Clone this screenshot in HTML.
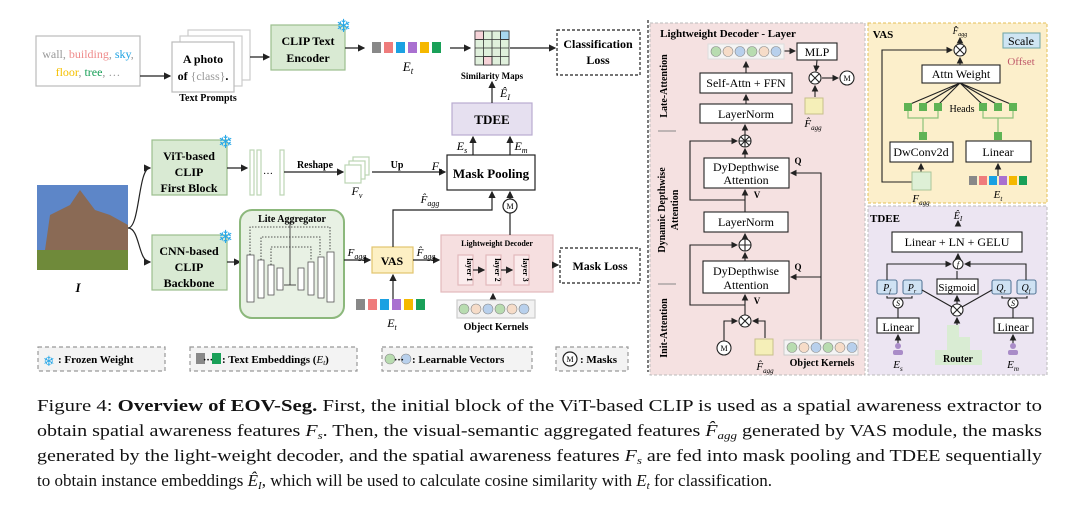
<!DOCTYPE html>
<html><head><meta charset="utf-8"><style>
html,body{margin:0;padding:0;background:#fff;width:1080px;height:514px;overflow:hidden}
svg{display:block}
text{font-family:"Liberation Serif",serif}
.b{font-weight:bold}
</style></head><body>
<svg width="1080" height="514" viewBox="0 0 1080 514" xmlns="http://www.w3.org/2000/svg">
<defs>
<marker id="a" markerWidth="6" markerHeight="6" refX="5" refY="3" orient="auto"><path d="M0,0 L6,3 L0,6 z" fill="#222"/></marker>
</defs>
<g stroke="#222" stroke-width="1.2" fill="none">
<rect x="36" y="36" width="104" height="50" fill="#fff" stroke="#bbb"/>
<rect x="188" y="30" width="62" height="50" fill="#fff" stroke="#ccc"/>
<rect x="180" y="36" width="62" height="50" fill="#fff" stroke="#ccc"/>
<rect x="172" y="42" width="62" height="50" fill="#fff" stroke="#bbb"/>
<rect x="271" y="25" width="74" height="45" fill="#d9ead3" stroke="#9bbf8e"/>
<rect x="557" y="30" width="83" height="45" stroke-dasharray="3,2" fill="#fff"/>
<line x1="140" y1="76" x2="170" y2="76" marker-end="url(#a)"/>
<line x1="250" y1="57" x2="269" y2="57" marker-end="url(#a)"/>
<line x1="345" y1="48" x2="364" y2="48" marker-end="url(#a)"/>
<line x1="450" y1="48" x2="470" y2="48" marker-end="url(#a)"/>
<line x1="510" y1="48" x2="555" y2="48" marker-end="url(#a)"/>
<line x1="648" y1="20" x2="648" y2="372" stroke-dasharray="3,2"/>
<rect x="452" y="103" width="80" height="32" fill="#e6e0f0" stroke="#b9acd0"/>
<line x1="492" y1="103" x2="492" y2="82" marker-end="url(#a)"/>
<rect x="447" y="155" width="88" height="35" fill="#fff"/>
<line x1="473" y1="155" x2="473" y2="137" marker-end="url(#a)"/>
<line x1="510" y1="155" x2="510" y2="137" marker-end="url(#a)"/>
<rect x="152" y="140" width="75" height="55" fill="#d9ead3" stroke="#9bbf8e"/>
<rect x="152" y="235" width="75" height="55" fill="#d9ead3" stroke="#9bbf8e"/>
<path d="M128 228 C140 228,138 168,150 168" marker-end="url(#a)"/>
<path d="M128 228 C140 228,138 262,150 262" marker-end="url(#a)"/>
<line x1="227" y1="168" x2="247" y2="168" marker-end="url(#a)"/>
<g stroke="#bcd5b3" fill="#fff"><rect x="250" y="150" width="4" height="45"/><rect x="257" y="150" width="4" height="45"/><rect x="280" y="150" width="4" height="45"/></g>
<line x1="284" y1="172" x2="343" y2="172" marker-end="url(#a)"/>
<g fill="#fff" stroke="#bcd5b3"><rect x="353" y="157" width="16" height="18"/><rect x="349" y="161" width="16" height="18"/><rect x="345" y="165" width="16" height="18"/></g>
<line x1="372" y1="172" x2="445" y2="172" marker-end="url(#a)"/>
<line x1="227" y1="262" x2="240" y2="262" marker-end="url(#a)"/>
<rect x="240" y="210" width="104" height="108" rx="12" fill="#e8f1e4" stroke="#8cb87c" stroke-width="2"/>
<g fill="#fff" stroke="#555" stroke-width="0.8">
<rect x="247" y="255" width="7" height="47"/><rect x="258" y="260" width="6" height="38"/><rect x="268" y="265" width="6" height="30"/><rect x="277" y="268" width="6" height="22"/>
<rect x="298" y="268" width="6" height="22"/><rect x="308" y="262" width="6" height="33"/><rect x="318" y="257" width="6" height="41"/><rect x="327" y="252" width="7" height="50"/>
</g>
<g stroke-dasharray="1.5,1.5" stroke-width="0.8"><path d="M250 255 V227 H330 V250"/><path d="M261 260 V237 H320 V255"/><path d="M271 265 V247 H311 V260"/></g>
<path d="M284 285 H296" stroke-width="0.8"/><path d="M290 285 V222" stroke-width="0.8"/>
<line x1="344" y1="260" x2="370" y2="260" marker-end="url(#a)"/>
<rect x="372" y="247" width="41" height="26" fill="#fdf0c4" stroke="#e2c46e"/>
<line x1="413" y1="260" x2="439" y2="260" marker-end="url(#a)"/>
<path d="M393 247 V210 H492 V192" marker-end="url(#a)"/>
<line x1="393" y1="300" x2="393" y2="275" marker-end="url(#a)"/>
<rect x="441" y="235" width="112" height="57" fill="#f6dfe0" stroke="#e3b9bc"/>
<g fill="#fbeced" stroke="#e3b9bc"><rect x="458" y="255" width="15" height="30"/><rect x="486" y="255" width="15" height="30"/><rect x="514" y="255" width="15" height="30"/></g>
<line x1="473" y1="270" x2="484" y2="270" marker-end="url(#a)"/>
<line x1="501" y1="270" x2="512" y2="270" marker-end="url(#a)"/>
<line x1="493" y1="300" x2="493" y2="294" marker-end="url(#a)"/>
<line x1="510" y1="235" x2="510" y2="213"/>
<circle cx="510" cy="206" r="7" fill="#fff"/>
<line x1="510" y1="199" x2="510" y2="192" marker-end="url(#a)"/>
<line x1="553" y1="265" x2="558" y2="265" marker-end="url(#a)"/>
<rect x="560" y="248" width="80" height="35" stroke-dasharray="3,2" fill="#fff"/>
<rect x="457" y="300" width="78" height="18" fill="#f2f2f2" stroke="#ccc"/>
<g stroke="#999" stroke-dasharray="4,3" fill="#f3f3f3"><rect x="38" y="347" width="127" height="24"/><rect x="190" y="347" width="167" height="24"/><rect x="382" y="347" width="150" height="24"/><rect x="556" y="347" width="72" height="24"/></g>
<circle cx="570" cy="359" r="7" fill="#fff"/>
</g>
<g>
<rect x="372" y="42" width="9" height="11" fill="#888"/><rect x="384" y="42" width="9" height="11" fill="#ef7c7c"/><rect x="396" y="42" width="9" height="11" fill="#1ba1e2"/><rect x="408" y="42" width="9" height="11" fill="#a970d0"/><rect x="420" y="42" width="9" height="11" fill="#f5b800"/><rect x="432" y="42" width="9" height="11" fill="#19a058"/>
<rect x="356" y="299" width="9" height="11" fill="#888"/><rect x="368" y="299" width="9" height="11" fill="#ef7c7c"/><rect x="380" y="299" width="9" height="11" fill="#1ba1e2"/><rect x="392" y="299" width="9" height="11" fill="#a970d0"/><rect x="404" y="299" width="9" height="11" fill="#f5b800"/><rect x="416" y="299" width="9" height="11" fill="#19a058"/>
<rect x="196" y="353" width="9" height="11" fill="#888"/><rect x="212" y="353" width="9" height="11" fill="#19a058"/>
</g>
<g stroke="#333" stroke-width="0.8">
<rect x="475" y="31" width="34" height="34" fill="#e0f0dc"/>
<rect x="475" y="31" width="8.5" height="8.5" fill="#f6d3d8"/><rect x="500.5" y="31" width="8.5" height="8.5" fill="#a8d8f0"/><rect x="483.5" y="56.5" width="8.5" height="8.5" fill="#f6d3d8"/>
<path d="M483.5 31V65M492 31V65M500.5 31V65M475 39.5H509M475 48H509M475 56.5H509" fill="none"/>
</g>
<rect x="37" y="185" width="91" height="85" fill="#5d86c8"/>
<rect x="37" y="250" width="91" height="20" fill="#6f8a3a"/>
<polygon points="45,250 50,215 70,205 80,190 95,210 110,215 128,225 128,250" fill="#8a6a55"/>
<g stroke="#888" stroke-width="0.6">
<circle cx="464" cy="309" r="5" fill="#b8dcb0"/><circle cx="476" cy="309" r="5" fill="#f6dcc8"/><circle cx="488" cy="309" r="5" fill="#b8d0ec"/><circle cx="500" cy="309" r="5" fill="#b8dcb0"/><circle cx="512" cy="309" r="5" fill="#f6dcc8"/><circle cx="524" cy="309" r="5" fill="#b8d0ec"/>
<circle cx="390" cy="359" r="5" fill="#b8dcb0"/><circle cx="406" cy="359" r="5" fill="#b8d0ec"/>
</g>
<g font-size="18" fill="#29a8e8" font-family="DejaVu Sans"><text x="336" y="32">❄</text><text x="218" y="148">❄</text><text x="218" y="243">❄</text><text x="43" y="366" font-size="14">❄</text></g>
<g font-size="12" text-anchor="middle">
<text x="88" y="58"><tspan fill="#999">wall, </tspan><tspan fill="#ef8c8c">building</tspan><tspan fill="#999">, </tspan><tspan fill="#1ba1e2">sky</tspan><tspan fill="#999">,</tspan></text>
<text x="88" y="76"><tspan fill="#f5c000">floor</tspan><tspan fill="#999">, </tspan><tspan fill="#19a058">tree</tspan><tspan fill="#999">, …</tspan></text>
<text x="203" y="63" class="b">A photo</text><text x="203" y="80"><tspan class="b">of </tspan><tspan fill="#999">{class}</tspan><tspan class="b">.</tspan></text>
<text x="208" y="101" class="b" font-size="10">Text Prompts</text>
<text x="308" y="45" class="b">CLIP Text</text><text x="308" y="62" class="b">Encoder</text>
<text x="408" y="71" font-style="italic" font-size="13">E<tspan font-size="9" dy="3">t</tspan></text>
<text x="492" y="79" class="b" font-size="9">Similarity Maps</text>
<text x="598" y="48" class="b">Classification</text><text x="598" y="64" class="b">Loss</text>
<text x="505" y="97" font-style="italic" font-size="12">Ê<tspan font-size="8" dy="3">I</tspan></text>
<text x="492" y="124" class="b" font-size="13">TDEE</text>
<text x="491" y="178" class="b" font-size="13">Mask Pooling</text>
<text x="462" y="150" font-style="italic" font-size="12">E<tspan font-size="8" dy="3">s</tspan></text>
<text x="521" y="150" font-style="italic" font-size="12">E<tspan font-size="8" dy="3">m</tspan></text>
<text x="437" y="170" font-style="italic" font-size="12">F<tspan font-size="8" dy="3">s</tspan></text>
<text x="189" y="160" class="b">ViT-based</text><text x="189" y="176" class="b">CLIP</text><text x="189" y="192" class="b">First Block</text>
<text x="189" y="255" class="b">CNN-based</text><text x="189" y="271" class="b">CLIP</text><text x="189" y="287" class="b">Backbone</text>
<text x="315" y="168" class="b" font-size="10">Reshape</text>
<text x="397" y="168" class="b" font-size="10">Up</text>
<text x="268" y="174" font-size="10">…</text>
<text x="357" y="195" font-style="italic" font-size="12">F<tspan font-size="8" dy="3">v</tspan></text>
<text x="78" y="292" font-style="italic" class="b" font-size="13">I</text>
<text x="292" y="222" class="b" font-size="10">Lite Aggregator</text>
<text x="357" y="256" font-style="italic" font-size="11">F<tspan font-size="8" dy="3">agg</tspan></text>
<text x="426" y="256" font-style="italic" font-size="11">F̂<tspan font-size="8" dy="3">agg</tspan></text>
<text x="430" y="203" font-style="italic" font-size="11">F̂<tspan font-size="8" dy="3">agg</tspan></text>
<text x="392" y="265" class="b" font-size="12">VAS</text>
<text x="497" y="246" class="b" font-size="8">Lightweight Decoder</text>
<text x="510" y="209" font-size="8">M</text>
<text x="600" y="270" class="b">Mask Loss</text>
<text x="392" y="327" font-style="italic" font-size="12">E<tspan font-size="8" dy="3">t</tspan></text>
<text x="496" y="330" class="b" font-size="10">Object Kernels</text>
<text x="570" y="362" font-size="8">M</text>
</g>
<g font-size="8" class="b" text-anchor="middle">
<text transform="translate(467,270) rotate(90)">layer 1</text><text transform="translate(495,270) rotate(90)">layer 2</text><text transform="translate(523,270) rotate(90)">layer 3</text>
</g>
<g font-size="11" class="b">
<text x="58" y="363">: Frozen Weight</text>
<text x="203" y="363" font-size="10">···</text><text x="222" y="363">: Text Embeddings (<tspan font-style="italic" font-weight="normal">E<tspan font-size="7" dy="2">t</tspan></tspan><tspan dy="-2">)</tspan></text>
<text x="394" y="363" font-size="10">···</text><text x="412" y="363">: Learnable Vectors</text>
<text x="580" y="363">: Masks</text>
</g>

<rect x="650" y="23" width="215" height="352" fill="#f5e1e1" stroke="#bbb" stroke-dasharray="3,2"/>
<rect x="868" y="23" width="179" height="180" fill="#fcefcb" stroke="#e3bf57" stroke-dasharray="3,2"/>
<rect x="868" y="206" width="179" height="169" fill="#ece5f2" stroke="#bbb" stroke-dasharray="3,2"/>
<g stroke="#222" stroke-width="1.1" fill="#fff">
<rect x="797" y="43" width="40" height="17"/>
<rect x="700" y="73" width="92" height="20"/>
<rect x="700" y="104" width="92" height="19"/>
<rect x="704" y="158" width="85" height="30"/>
<rect x="704" y="212" width="84" height="20"/>
<rect x="703" y="261" width="86" height="32"/>
<circle cx="745" cy="141" r="6"/><circle cx="745" cy="245" r="6"/><circle cx="745" cy="321" r="6"/>
<circle cx="815" cy="78" r="6"/><circle cx="847" cy="78" r="7"/><circle cx="724" cy="348" r="7"/>
<path d="M741 137l8 8M749 137l-8 8M741 317l8 8M749 317l-8 8M811 74l8 8M819 74l-8 8M745 135v12M739 141h12M745 239v12M739 245h12" fill="none"/>
<g fill="none">
<line x1="746" y1="73" x2="746" y2="62" marker-end="url(#a)"/>
<line x1="784" y1="51" x2="795" y2="51" marker-end="url(#a)"/>
<line x1="817" y1="60" x2="816" y2="71" marker-end="url(#a)"/>
<line x1="822" y1="78" x2="838" y2="78" marker-end="url(#a)"/>
<line x1="815" y1="97" x2="815" y2="86" marker-end="url(#a)"/>
<line x1="746" y1="104" x2="746" y2="95" marker-end="url(#a)"/>
<line x1="745" y1="135" x2="745" y2="125" marker-end="url(#a)"/>
<line x1="745" y1="158" x2="745" y2="149" marker-end="url(#a)"/>
<line x1="745" y1="212" x2="745" y2="190" marker-end="url(#a)"/>
<line x1="745" y1="239" x2="745" y2="234" marker-end="url(#a)"/>
<line x1="745" y1="261" x2="745" y2="253" marker-end="url(#a)"/>
<line x1="745" y1="315" x2="745" y2="295" marker-end="url(#a)"/>
<path d="M745 200 H690 V141 H737" marker-end="url(#a)"/>
<path d="M745 305 H690 V245 H737" marker-end="url(#a)"/>
<path d="M821 340 V173 H791" marker-end="url(#a)"/>
<path d="M821 277 H791" marker-end="url(#a)"/>
<path d="M724 341 V321 H737" marker-end="url(#a)"/>
<path d="M765 338 V321 H753" marker-end="url(#a)"/>
</g>
</g>
<line x1="658" y1="131" x2="676" y2="131" stroke="#888"/><line x1="658" y1="284" x2="676" y2="284" stroke="#888"/>
<rect x="708" y="44" width="76" height="15" fill="#f4f4f4" stroke="#ddd"/>
<rect x="784" y="340" width="74" height="15" fill="#f4f4f4" stroke="#ccc"/>
<g stroke="#888" stroke-width="0.6">
<circle cx="716" cy="51.5" r="5" fill="#b8dcb0"/><circle cx="728" cy="51.5" r="5" fill="#f6dcc8"/><circle cx="740" cy="51.5" r="5" fill="#b8d0ec"/><circle cx="752" cy="51.5" r="5" fill="#b8dcb0"/><circle cx="764" cy="51.5" r="5" fill="#f6dcc8"/><circle cx="776" cy="51.5" r="5" fill="#b8d0ec"/>
<circle cx="792" cy="347.5" r="5" fill="#b8dcb0"/><circle cx="804" cy="347.5" r="5" fill="#f6dcc8"/><circle cx="816" cy="347.5" r="5" fill="#b8d0ec"/><circle cx="828" cy="347.5" r="5" fill="#b8dcb0"/><circle cx="840" cy="347.5" r="5" fill="#f6dcc8"/><circle cx="852" cy="347.5" r="5" fill="#b8d0ec"/>
</g>
<g fill="#f5efb8" stroke="#c8c08a"><rect x="805" y="98" width="18" height="16"/><rect x="755" y="339" width="18" height="16"/></g>
<g font-size="12" text-anchor="middle">
<text x="728" y="37" class="b" font-size="11">Lightweight Decoder - Layer</text>
<text x="817" y="56">MLP</text>
<text x="746" y="87">Self-Attn + FFN</text>
<text x="746" y="118">LayerNorm</text>
<text x="746" y="171">DyDepthwise</text><text x="746" y="184">Attention</text>
<text x="746" y="226">LayerNorm</text>
<text x="746" y="275">DyDepthwise</text><text x="746" y="289">Attention</text>
<text x="847" y="81" font-size="8">M</text><text x="724" y="351" font-size="8">M</text>
<text x="798" y="164" class="b" font-size="9">Q</text><text x="798" y="270" class="b" font-size="9">Q</text>
<text x="757" y="198" class="b" font-size="9">V</text><text x="757" y="304" class="b" font-size="9">V</text>
<text x="822" y="366" class="b" font-size="10">Object Kernels</text>
<text x="813" y="127" font-style="italic" font-size="11">F̂<tspan font-size="7" dy="3">agg</tspan></text>
<text x="765" y="370" font-style="italic" font-size="11">F̂<tspan font-size="7" dy="3">agg</tspan></text>
</g>
<g font-size="10" class="b" text-anchor="middle">
<text transform="translate(667,86) rotate(-90)">Late-Attention</text>
<text transform="translate(665,210) rotate(-90)">Dynamic Depthwise</text>
<text transform="translate(678,210) rotate(-90)">Attention</text>
<text transform="translate(667,328) rotate(-90)">Init-Attention</text>
</g>
<g stroke="#222" stroke-width="1.1" fill="#fff">
<rect x="922" y="65" width="78" height="18"/>
<rect x="890" y="142" width="63" height="20"/>
<rect x="966" y="141" width="65" height="21"/>
<rect x="1003" y="33" width="37" height="15" fill="#cfe5f3" stroke="#7aa"/>
<circle cx="960" cy="50" r="6"/>
<path d="M956 46l8 8M964 46l-8 8" fill="none"/>
<g fill="none">
<line x1="960" y1="44" x2="960" y2="38" marker-end="url(#a)"/>
<line x1="960" y1="65" x2="960" y2="58" marker-end="url(#a)"/>
<path d="M912 182 H882 V50 H952" marker-end="url(#a)"/>
<line x1="921" y1="172" x2="921" y2="164" marker-end="url(#a)"/>
<line x1="998" y1="176" x2="998" y2="164" marker-end="url(#a)"/>
<path d="M960 83 L908 105 M960 83 L923 105 M960 83 L938 105 M960 83 L983 105 M960 83 L998 105 M960 83 L1013 105"/>
</g>
</g>
<g stroke="#8cc27a" stroke-width="1.2" fill="none"><path d="M908 110v8h30v-8M923 118v15M983 110v8h30v-8M998 118v15"/></g>
<g fill="#5fb355"><rect x="904" y="103" width="8" height="8"/><rect x="919" y="103" width="8" height="8"/><rect x="934" y="103" width="8" height="8"/><rect x="979" y="103" width="8" height="8"/><rect x="994" y="103" width="8" height="8"/><rect x="1009" y="103" width="8" height="8"/><rect x="919" y="132" width="8" height="8"/><rect x="994" y="132" width="8" height="8"/></g>
<rect x="912" y="172" width="19" height="18" fill="#def0d6" stroke="#aac69a"/>
<g><rect x="969" y="176" width="8" height="9" fill="#888"/><rect x="979" y="176" width="8" height="9" fill="#ef7c7c"/><rect x="989" y="176" width="8" height="9" fill="#1ba1e2"/><rect x="999" y="176" width="8" height="9" fill="#a970d0"/><rect x="1009" y="176" width="8" height="9" fill="#f5b800"/><rect x="1019" y="176" width="8" height="9" fill="#19a058"/></g>
<g font-size="12" text-anchor="middle">
<text x="883" y="38" class="b" font-size="11">VAS</text>
<text x="960" y="34" font-style="italic" font-size="9">F̂<tspan font-size="6" dy="2">agg</tspan></text>
<text x="1021" y="45">Scale</text>
<text x="1021" y="65" fill="#c05a6a" font-size="11">Offset</text>
<text x="961" y="78">Attn Weight</text>
<text x="962" y="112" font-size="10">Heads</text>
<text x="921" y="156">DwConv2d</text>
<text x="998" y="156">Linear</text>
<text x="921" y="202" font-style="italic" font-size="11">F<tspan font-size="7" dy="3">agg</tspan></text>
<text x="998" y="198" font-style="italic" font-size="11">E<tspan font-size="7" dy="3">t</tspan></text>
</g>
<g fill="#d9ecd3"><rect x="947" y="325" width="12" height="25"/><rect x="959" y="337" width="11" height="13"/></g>
<rect x="935" y="350" width="47" height="15" fill="#d9ecd3"/>
<g stroke="#222" stroke-width="1.1" fill="#fff">
<rect x="892" y="232" width="130" height="20"/>
<rect x="937" y="279" width="41" height="15"/>
<rect x="877" y="318" width="42" height="15"/>
<rect x="994" y="318" width="39" height="15"/>
<g fill="#cfe2f3" stroke="#5a7a9a"><rect x="877" y="280" width="20" height="14" rx="2"/><rect x="903" y="280" width="19" height="14" rx="2"/><rect x="992" y="280" width="19" height="14" rx="2"/><rect x="1017" y="280" width="19" height="14" rx="2"/></g>
<circle cx="958" cy="264" r="5"/><circle cx="898" cy="303" r="5"/><circle cx="1013" cy="303" r="5"/><circle cx="957" cy="310" r="6"/>
<path d="M953 306l8 8M961 306l-8 8" fill="none"/>
<g fill="none">
<line x1="958" y1="226" x2="958" y2="221" marker-end="url(#a)"/>
<line x1="958" y1="259" x2="958" y2="254" marker-end="url(#a)"/>
<path d="M887 280 V264 H951" marker-end="url(#a)"/>
<path d="M1026 280 V264 H965" marker-end="url(#a)"/>
<line x1="957" y1="279" x2="957" y2="271"/>
<line x1="957" y1="304" x2="957" y2="296" marker-end="url(#a)"/>
<path d="M922 290 L952 307 M992 290 L962 307"/>
<line x1="957" y1="325" x2="957" y2="318" marker-end="url(#a)"/>
<path d="M898 318v-10 M898 298 h-11v-2 M898 298h14v-2 M1013 318v-10 M1013 298h-11v-2 M1013 298h14v-2"/>
<line x1="898" y1="345" x2="898" y2="335" marker-end="url(#a)"/>
<line x1="1013" y1="345" x2="1013" y2="335" marker-end="url(#a)"/>
</g>
</g>
<g fill="#a98cc8"><circle cx="898" cy="346" r="3"/><rect x="893" y="350" width="10" height="5" rx="2"/><circle cx="1013" cy="346" r="3"/><rect x="1008" y="350" width="10" height="5" rx="2"/></g>
<g font-size="12" text-anchor="middle">
<text x="885" y="222" class="b" font-size="11">TDEE</text>
<text x="958" y="219" font-style="italic" font-size="10">Ê<tspan font-size="7" dy="2">I</tspan></text>
<text x="957" y="246">Linear + LN + GELU</text>
<text x="958" y="267" font-style="italic" font-size="8">f</text>
<text x="957" y="291" font-size="11">Sigmoid</text>
<text x="898" y="331">Linear</text><text x="1013" y="331">Linear</text>
<text x="887" y="291" font-style="italic" font-size="10">P<tspan font-size="6" dy="2">f</tspan></text>
<text x="912" y="291" font-style="italic" font-size="10">P<tspan font-size="6" dy="2">r</tspan></text>
<text x="1001" y="291" font-style="italic" font-size="10">Q<tspan font-size="6" dy="2">r</tspan></text>
<text x="1026" y="291" font-style="italic" font-size="10">Q<tspan font-size="6" dy="2">f</tspan></text>
<text x="898" y="306" font-style="italic" font-size="8">S</text><text x="1013" y="306" font-style="italic" font-size="8">S</text>
<text x="958" y="362" class="b" font-size="10">Router</text>
<text x="898" y="368" font-style="italic" font-size="11">E<tspan font-size="7" dy="3">s</tspan></text>
<text x="1013" y="368" font-style="italic" font-size="11">E<tspan font-size="7" dy="3">m</tspan></text>
</g>
<g font-size="17" fill="#111">
<text x="37" y="411" textLength="1005" lengthAdjust="spacingAndGlyphs">Figure 4: <tspan class="b">Overview of EOV-Seg.</tspan> First, the initial block of the ViT-based CLIP is used as a spatial awareness extractor to</text>
<text x="37" y="436" textLength="1005" lengthAdjust="spacingAndGlyphs">obtain spatial awareness features <tspan font-style="italic">F<tspan font-size="11" dy="3">s</tspan></tspan><tspan dy="-3">. Then, the visual-semantic aggregated features </tspan><tspan font-style="italic">F̂<tspan font-size="11" dy="3">agg</tspan></tspan><tspan dy="-3"> generated by VAS module, the masks</tspan></text>
<text x="37" y="461" textLength="1005" lengthAdjust="spacingAndGlyphs">generated by the light-weight decoder, and the spatial awareness features <tspan font-style="italic">F<tspan font-size="11" dy="3">s</tspan></tspan><tspan dy="-3"> are fed into mask pooling and TDEE sequentially</tspan></text>
<text x="37" y="486" textLength="735" lengthAdjust="spacingAndGlyphs">to obtain instance embeddings <tspan font-style="italic">Ê<tspan font-size="11" dy="3">I</tspan></tspan><tspan dy="-3">, which will be used to calculate cosine similarity with </tspan><tspan font-style="italic">E<tspan font-size="11" dy="3">t</tspan></tspan><tspan dy="-3"> for classification.</tspan></text>
</g>
</svg>
</body></html>
